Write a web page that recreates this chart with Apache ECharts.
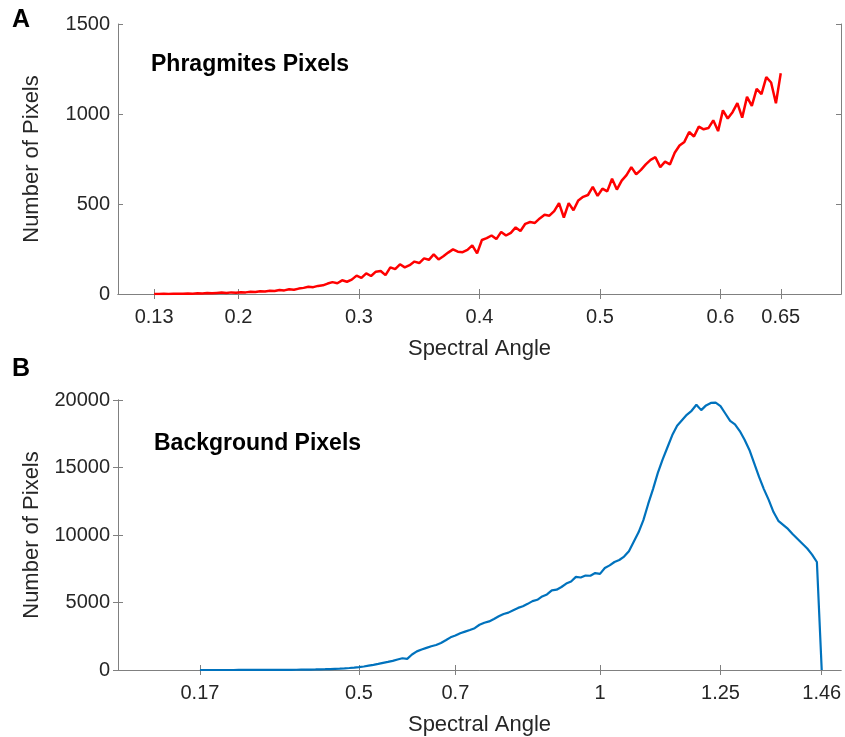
<!DOCTYPE html>
<html>
<head>
<meta charset="utf-8">
<title>Spectral Angle histograms</title>
<script src="https://cdn.jsdelivr.net/npm/echarts@6.0.0/dist/echarts.min.js"></script>
<style>
  html, body { margin: 0; padding: 0; background: #fff; }
  #chart { width: 845px; height: 737px; }
</style>
</head>
<body>
<div id="chart"></div>
<script>
// panel A - phragmites pixels (bin centres / counts)
const anglesA = [0.130,0.134,0.138,0.142,0.146,0.150,0.154,0.158,0.162,0.166,0.170,0.174,0.178,0.182,0.186,0.190,0.194,0.198,0.202,0.206,
  0.210,0.214,0.218,0.222,0.226,0.230,0.234,0.238,0.242,0.246,0.250,0.254,0.258,0.262,0.266,0.270,0.274,0.278,0.282,0.286,
  0.290,0.294,0.298,0.302,0.306,0.310,0.314,0.318,0.322,0.326,0.330,0.334,0.338,0.342,0.346,0.350,0.354,0.358,0.362,0.366,
  0.370,0.374,0.378,0.382,0.386,0.390,0.394,0.398,0.402,0.406,0.410,0.414,0.418,0.422,0.426,0.430,0.434,0.438,0.442,0.446,
  0.450,0.454,0.458,0.462,0.466,0.470,0.474,0.478,0.482,0.486,0.490,0.494,0.498,0.502,0.506,0.510,0.514,0.518,0.522,0.526,
  0.530,0.534,0.538,0.542,0.546,0.550,0.554,0.558,0.562,0.566,0.570,0.574,0.578,0.582,0.586,0.590,0.594,0.598,0.602,0.606,
  0.610,0.614,0.618,0.622,0.626,0.630,0.634,0.638,0.642,0.646,0.650];
const countsA = [0,0,1,0,1,2,1,3,2,4,3,5,4,6,8,5,9,7,10,9,
  13,11,15,14,18,17,22,20,26,24,30,34,40,38,45,48,58,66,60,76,
  68,80,102,90,115,100,124,128,105,148,138,165,148,160,180,172,198,190,220,192,
  210,230,248,235,232,245,270,226,300,310,325,305,345,325,340,370,350,390,400,395,
  420,440,435,460,505,425,505,465,520,540,550,595,545,585,570,640,580,630,660,705,
  665,690,720,745,760,705,735,720,785,825,845,900,875,930,915,922,965,905,1020,975,
  1010,1060,980,1095,1045,1140,1110,1205,1175,1060,1226];
const xTicksA = [0.13, 0.2, 0.3, 0.4, 0.5, 0.6, 0.65];

// panel B - background pixels
const anglesB = [0.17,0.18,0.19,0.20,0.21,0.22,0.23,0.24,0.25,0.26,0.27,0.28,0.29,0.30,0.31,0.32,0.33,0.34,0.35,0.36,
  0.37,0.38,0.39,0.40,0.41,0.42,0.43,0.44,0.45,0.46,0.47,0.48,0.49,0.50,0.51,0.52,0.53,0.54,0.55,0.56,
  0.57,0.58,0.59,0.60,0.61,0.62,0.63,0.64,0.65,0.66,0.67,0.68,0.69,0.70,0.71,0.72,0.73,0.74,0.75,0.76,
  0.77,0.78,0.79,0.80,0.81,0.82,0.83,0.84,0.85,0.86,0.87,0.88,0.89,0.90,0.91,0.92,0.93,0.94,0.95,0.96,
  0.97,0.98,0.99,1.00,1.01,1.02,1.03,1.04,1.05,1.06,1.07,1.08,1.09,1.10,1.11,1.12,1.13,1.14,1.15,1.16,
  1.17,1.18,1.19,1.20,1.21,1.22,1.23,1.24,1.25,1.26,1.27,1.28,1.29,1.30,1.31,1.32,1.33,1.34,1.35,1.36,
  1.37,1.38,1.39,1.40,1.41,1.42,1.43,1.44,1.45,1.46];
const countsB = [0,0,0,0,0,1,1,1,2,2,3,3,4,5,6,7,9,11,13,16,
  19,23,28,34,41,50,60,72,88,105,125,150,180,215,260,320,380,450,530,600,
  680,780,870,820,1150,1380,1520,1640,1760,1850,2000,2200,2420,2550,2720,2840,2960,3100,3350,3500,
  3600,3780,3980,4150,4250,4430,4600,4720,4900,5100,5200,5450,5600,5900,5950,6150,6400,6550,6900,6850,
  7000,6980,7180,7120,7550,7750,8000,8150,8400,8800,9500,10200,11100,12300,13400,14600,15600,16500,17400,18100,
  18500,18900,19200,19650,19250,19600,19780,19800,19550,19000,18450,18200,17700,17050,16300,15300,14300,13400,12600,11700,
  11050,10750,10450,10050,9700,9350,9000,8550,8000,0];
const xTicksB = [0.17, 0.5, 0.7, 1, 1.25, 1.46];

const font = "'Liberation Sans', Arial, sans-serif";
const boxColor = '#808080';
const textColor = '#262626';

let myChart = echarts.init(document.getElementById('chart'), null, { renderer: 'canvas' });

function xMain (grid, min, max, ticks) {
  return {
    gridIndex: grid, type: 'value', min: min, max: max,
    name: 'Spectral Angle', nameLocation: 'middle', nameGap: 44,
    nameTextStyle: { fontSize: 22, color: textColor, fontFamily: font },
    axisLine: { lineStyle: { color: boxColor } },
    axisTick: { inside: true, length: 5, customValues: ticks, lineStyle: { color: boxColor } },
    axisLabel: { customValues: ticks, fontSize: 20, color: textColor, fontFamily: font, margin: 13,
      formatter: (v) => String(v) },
    splitLine: { show: false }
  };
}
function xMirror (grid, min, max, ticks) {
  return {
    gridIndex: grid, type: 'value', min: min, max: max, position: 'top',
    axisLine: { lineStyle: { color: boxColor } },
    axisTick: { inside: true, length: 5, customValues: ticks, lineStyle: { color: boxColor } },
    axisLabel: { show: false },
    splitLine: { show: false }
  };
}
function yMain (grid, max, interval) {
  return {
    gridIndex: grid, type: 'value', min: 0, max: max, interval: interval,
    name: 'Number of Pixels', nameLocation: 'middle', nameGap: 75,
    nameTextStyle: { fontSize: 22, color: textColor, fontFamily: font },
    axisLine: { show: true, lineStyle: { color: boxColor } },
    axisTick: { show: true, inside: true, length: 5, lineStyle: { color: boxColor } },
    axisLabel: { fontSize: 20, color: textColor, fontFamily: font, margin: 8,
      formatter: (v) => String(v) },
    splitLine: { show: false }
  };
}
function yMirror (grid, max, interval) {
  return {
    gridIndex: grid, type: 'value', min: 0, max: max, interval: interval, position: 'right',
    axisLine: { show: true, lineStyle: { color: boxColor } },
    axisTick: { show: true, inside: true, length: 5, lineStyle: { color: boxColor } },
    axisLabel: { show: false },
    splitLine: { show: false }
  };
}

myChart.setOption({
  animation: false,
  backgroundColor: '#ffffff',
  grid: [
    { left: 118, right: 4, top: 24, height: 270 },
    { left: 118, right: 4, top: 400, height: 270 }
  ],
  xAxis: [
    xMain(0, 0.1, 0.7, xTicksA),
    xMirror(0, 0.1, 0.7, xTicksA),
    xMain(1, 0, 1.5, xTicksB),
    xMirror(1, 0, 1.5, xTicksB)
  ],
  yAxis: [
    yMain(0, 1500, 500),
    yMirror(0, 1500, 500),
    yMain(1, 20000, 5000),
    yMirror(1, 20000, 5000)
  ],
  graphic: [
    { type: 'text', left: 12, top: 8, style: { text: 'A', font: 'bold 25px ' + font, fill: '#000' } },
    { type: 'text', left: 12, top: 357, style: { text: 'B', font: 'bold 25px ' + font, fill: '#000' } },
    { type: 'text', left: 151, top: 53, style: { text: 'Phragmites Pixels', font: 'bold 23px ' + font, fill: '#000' } },
    { type: 'text', left: 154, top: 432, style: { text: 'Background Pixels', font: 'bold 23px ' + font, fill: '#000' } }
  ],
  series: [
    {
      name: 'Phragmites', type: 'line', xAxisIndex: 0, yAxisIndex: 0,
      data: anglesA.map((a, i) => [a, countsA[i]]),
      showSymbol: false, lineStyle: { color: '#ff0000', width: 2.5 }
    },
    {
      name: 'Background', type: 'line', xAxisIndex: 2, yAxisIndex: 2,
      data: anglesB.map((a, i) => [a, countsB[i]]),
      showSymbol: false, lineStyle: { color: '#0072bd', width: 2.2 }
    }
  ]
});
</script>
</body>
</html>
